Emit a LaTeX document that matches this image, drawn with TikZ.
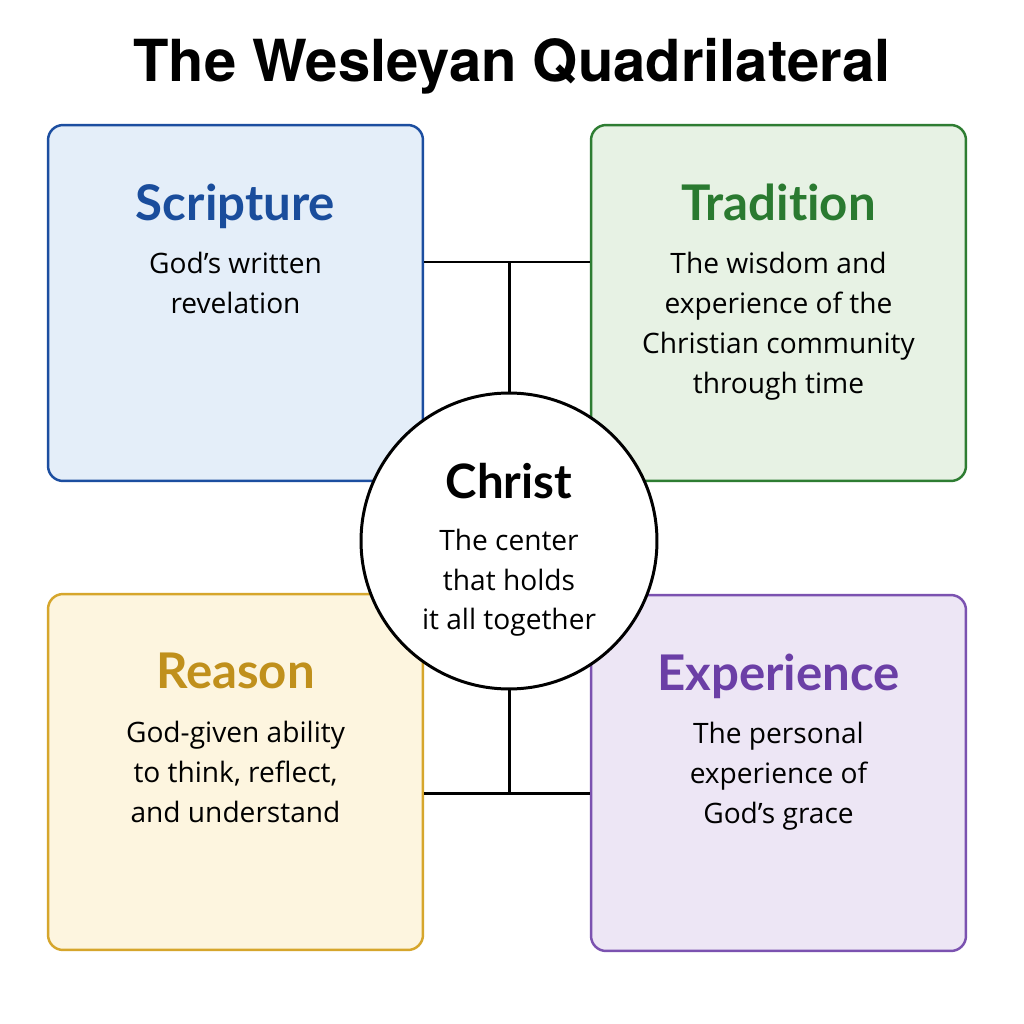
\documentclass[tikz,border=0pt]{standalone}
\usepackage{fontspec}
\setmainfont{Lato}[Ligatures={NoCommon}]
\newfontfamily\titlefont{TeX Gyre Heros}
\newfontfamily\bodyfont{Open Sans}
\usepackage{tikz}
\usetikzlibrary{positioning}
\definecolor{scrline}{HTML}{1C4EA0}
\definecolor{scrfill}{HTML}{E4EEF9}
\definecolor{scrtext}{HTML}{1A4D9C}
\definecolor{tradline}{HTML}{2E7D32}
\definecolor{tradfill}{HTML}{E7F2E4}
\definecolor{tradtext}{HTML}{2A7A30}
\definecolor{realine}{HTML}{D6A62C}
\definecolor{reafill}{HTML}{FDF5DF}
\definecolor{reatext}{HTML}{C0901C}
\definecolor{expline}{HTML}{7B52B0}
\definecolor{expfill}{HTML}{EDE6F5}
\definecolor{exptext}{HTML}{6B3FA6}
\tikzset{
    %Define style for the four boxes
    quad/.style={
           rectangle,
           rounded corners=0.3cm,
           line width=1.4pt,
           minimum width=7.5cm,
           minimum height=7.12cm,
           },
    %Define style for the centre
    hub/.style={
           circle,
           draw=black, line width=1.7pt,
           fill=white,
           minimum size=5.92cm,
           },
    % Define text styles
    head/.style={
           font=\fontsize{28}{32}\selectfont\bfseries,
           inner sep=0pt,
           },
    desc/.style={
           font=\bodyfont\fontsize{16}{22.7}\selectfont,
           align=center,
           inner sep=0pt,
           },
    % Define line style
    link/.style={line width=1.7pt}
}
\begin{document}
\begin{tikzpicture}[x=0.02cm,y=-0.02cm]
\useasboundingbox[fill=white] (0,0) rectangle (1024,1024);
\node[font=\titlefont\fontsize{33}{36}\selectfont\bfseries, anchor=base] (0) at (512,82) {The Wesleyan Quadrilateral};
\node[quad, draw=scrline, fill=scrfill](1) at (235.5,303){};
\node[quad, draw=tradline, fill=tradfill](2) at (778.5,303){};
\node[quad, draw=realine, fill=reafill](3) at (235.5,772){};
\node[quad, draw=expline, fill=expfill](4) at (778.5,773){};
\node[head, text=scrtext, below=1.2cm of 1.north](1t){Scripture};
\node[desc, below=2.56cm of 1.north](1d){God’s written\\revelation};
\node[head, text=tradtext, below=1.2cm of 2.north](2t){Tradition};
\node[desc, below=2.56cm of 2.north](2d){The wisdom and\\experience of the\\Christian community\\through time};
\node[head, text=reatext, below=1.2cm of 3.north](3t){Reason};
\node[desc, below=2.56cm of 3.north](3d){God-given ability\\to think, reflect,\\and understand};
\node[head, text=exptext, below=1.2cm of 4.north](4t){Experience};
\node[desc, below=2.56cm of 4.north](4d){The personal\\experience of\\God’s grace};
\coordinate (tj) at (509,262);
\coordinate (bj) at (509,793);
\draw[link] (tj -| 1.east) -- (tj -| 2.west);
\draw[link] (bj -| 3.east) -- (bj -| 4.west);
\node[hub](5) at (509,541){};
\draw[link] (tj) -- (5.north);
\draw[link] (5.south) -- (bj);
\node[head, font=\fontsize{27}{30}\selectfont\bfseries, below=1.42cm of 5.north](5t){Christ};
\node[desc, below=2.74cm of 5.north](5d){The center\\that holds\\it all together};
\end{tikzpicture}
\end{document}
